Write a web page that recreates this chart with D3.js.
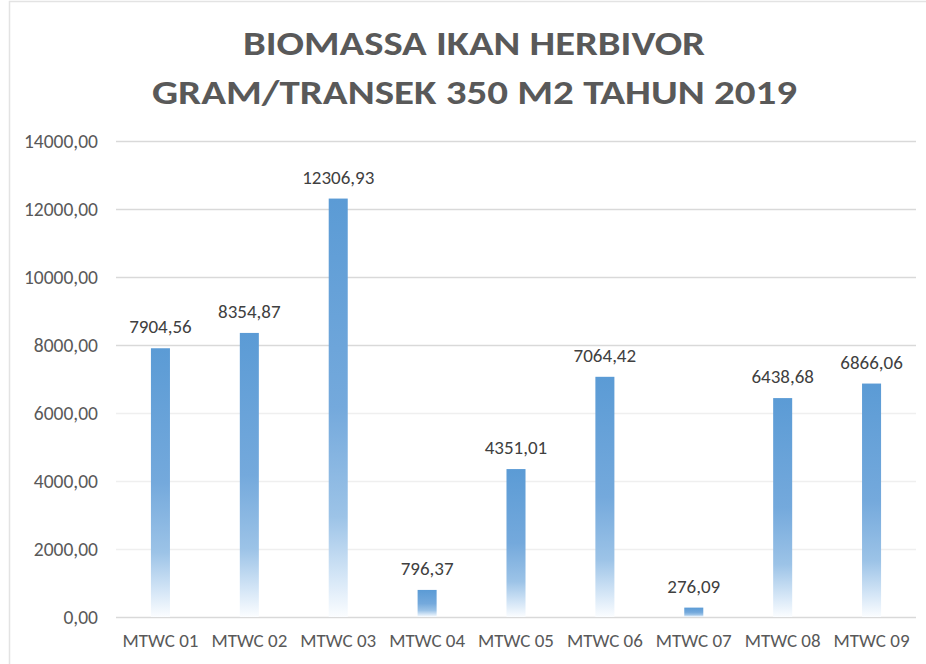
<!DOCTYPE html>
<html>
<head>
<meta charset="utf-8">
<script src="https://cdn.jsdelivr.net/npm/d3@7"></script>
<style>
  html, body { margin: 0; padding: 0; background: #fff; }
  svg { display: block; }
  text { font-family: Carlito, "Open Sans", sans-serif; }
</style>
</head>
<body>
<svg id="chart" width="926" height="664"></svg>
<script>
// Biomass of herbivorous fish per transect station
const categories = ["MTWC 01", "MTWC 02", "MTWC 03", "MTWC 04", "MTWC 05", "MTWC 06", "MTWC 07", "MTWC 08", "MTWC 09"];
const biomass = [7904.56, 8354.87, 12306.93, 796.37, 4351.01, 7064.42, 276.09, 6438.68, 6866.06];
const yTicks = [0, 2000, 4000, 6000, 8000, 10000, 12000, 14000];
const titleLines = ["BIOMASSA IKAN HERBIVOR", "GRAM/TRANSEK 350 M2 TAHUN 2019"];

const W = 926, H = 664;
const plot = { left: 116, right: 916, top: 141, bottom: 617 };

const svg = d3.select("#chart");

// decimal comma, two places
const fmt = v => d3.format(".2f")(v).replace(".", ",");

// vertical fade for each bar
const defs = svg.append("defs");
const grad = defs.append("linearGradient")
  .attr("id", "barFade")
  .attr("x1", 0).attr("y1", 0).attr("x2", 0).attr("y2", 1);
[[0, "#5b9bd5"], [0.5, "#74a9dc"], [0.76, "#9cc3e7"], [0.9, "#d3e5f6"], [1, "#fbfdff"]]
  .forEach(([o, c]) => grad.append("stop").attr("offset", o).attr("stop-color", c));

// chart frame
svg.append("rect").attr("width", W).attr("height", H).attr("fill", "#fff");
svg.append("path")
  .attr("d", `M9.5,${H} V1.5 H${W}`)
  .attr("fill", "none").attr("stroke", "#e3e3e3").attr("stroke-width", 1.5);

// title
const titleLayout = [{ x: 243, y: 55, len: 462 }, { x: 152, y: 103.5, len: 645 }];
svg.selectAll("text.title").data(titleLines).join("text")
  .attr("class", "title")
  .attr("x", (d, i) => titleLayout[i].x)
  .attr("y", (d, i) => titleLayout[i].y)
  .attr("textLength", (d, i) => titleLayout[i].len)
  .attr("lengthAdjust", "spacingAndGlyphs")
  .attr("font-size", 35)
  .attr("font-weight", "bold")
  .attr("fill", "#595959")
  .text(d => d);

const x = d3.scaleBand()
  .domain(categories)
  .range([plot.left, plot.right])
  .paddingInner(0.786)
  .paddingOuter(0.393);

const y = d3.scaleLinear()
  .domain([0, 14000])
  .range([plot.bottom, plot.top]);

// gridlines and value axis
const yAxis = svg.append("g")
  .attr("transform", `translate(${plot.left},0)`)
  .call(d3.axisLeft(y).tickValues(yTicks).tickSize(-(plot.right - plot.left)).tickPadding(18).tickFormat(fmt));
yAxis.select(".domain").remove();
yAxis.selectAll(".tick line")
  .attr("stroke", d => d === 0 ? "#d9d9d9" : (d >= 8000 ? "#d9d9d9" : "#efefef"))
  .attr("stroke-width", 1.5);
yAxis.selectAll(".tick text")
  .attr("font-size", 19.5)
  .attr("fill", "#595959")
  .attr("font-family", 'Carlito, "Open Sans", sans-serif');

// bars
svg.append("g").selectAll("rect").data(biomass).join("rect")
  .attr("x", (d, i) => x(categories[i]))
  .attr("width", x.bandwidth())
  .attr("y", d => y(d))
  .attr("height", d => y(0) - y(d))
  .attr("fill", "url(#barFade)");

// value labels
svg.append("g").selectAll("text").data(biomass).join("text")
  .attr("x", (d, i) => x(categories[i]) + x.bandwidth() / 2)
  .attr("y", d => y(d) - 15)
  .attr("text-anchor", "middle")
  .attr("font-size", 19)
  .attr("fill", "#404040")
  .text(fmt);

// category axis
const xAxis = svg.append("g")
  .attr("transform", `translate(0,${plot.bottom})`)
  .call(d3.axisBottom(x).tickSize(0).tickPadding(17));
xAxis.select(".domain").remove();
xAxis.selectAll(".tick text")
  .attr("font-size", 19)
  .attr("fill", "#595959")
  .attr("font-family", 'Carlito, "Open Sans", sans-serif');
</script>
</body>
</html>
